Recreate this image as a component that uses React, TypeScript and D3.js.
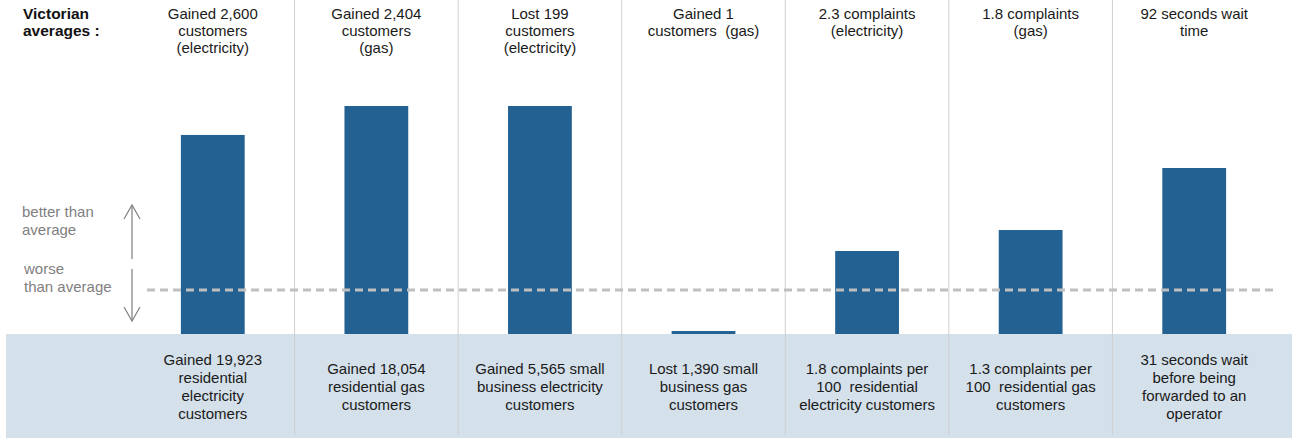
import React from 'react';
import * as d3 from 'd3';

const categories = ['elecRes', 'gasRes', 'elecBiz', 'gasBiz', 'complElec', 'complGas', 'wait'];

// index score per retailer measure (higher = better than average)
const scores = [87.3, 100, 100, 1.3, 36.4, 45.6, 72.8];
const averageScore = 19.3;

const averageLabels = [
  ['Gained 2,600', 'customers', '(electricity)'],
  ['Gained 2,404', 'customers', '(gas)'],
  ['Lost 199', 'customers', '(electricity)'],
  ['Gained 1', 'customers  (gas)'],
  ['2.3 complaints', '(electricity)'],
  ['1.8 complaints', '(gas)'],
  ['92 seconds wait', 'time'],
];

const retailerLabels = [
  ['Gained 19,923', 'residential', 'electricity', 'customers'],
  ['Gained 18,054', 'residential gas', 'customers'],
  ['Gained 5,565 small', 'business electricity', 'customers'],
  ['Lost 1,390 small', 'business gas', 'customers'],
  ['1.8 complaints per', '100  residential', 'electricity customers'],
  ['1.3 complaints per', '100  residential gas', 'customers'],
  ['31 seconds wait', 'before being', 'forwarded to an', 'operator'],
];

const width = 1292;
const height = 438;
const baseY = 334;
const font = '"Liberation Sans", Arial, sans-serif';

export default function App() {
  const x = d3.scaleBand<string>()
    .domain(categories)
    .range([131, 1276])
    .paddingInner(0.61)
    .paddingOuter(0.305);

  const y = d3.scaleLinear().domain([0, 100]).range([baseY, 106]);

  const step = x.step();
  const separators = categories.slice(1).map(c => (x(c) as number) + x.bandwidth() / 2 - step / 2);

  const avgY = y(averageScore);

  return (
    <div style={{ position: 'absolute', left: 0, top: 0 }}>
      <svg width={width} height={height} style={{ display: 'block', fontFamily: font }}>
        <rect x={0} y={0} width={width} height={height} fill="#fff" />
        <rect x={6} y={baseY} width={width - 6} height={height - baseY} fill="#d4e0ea" />

        {separators.map((sx, i) => (
          <line key={i} x1={sx} x2={sx} y1={0} y2={435} stroke="#d0d0d0" strokeWidth={1} />
        ))}

        {categories.map((c, i) => (
          <rect
            key={c}
            x={x(c)}
            y={y(scores[i])}
            width={x.bandwidth()}
            height={baseY - y(scores[i])}
            fill="#236192"
          />
        ))}

        <line x1={147} x2={1276} y1={avgY} y2={avgY} stroke="#bfbfbf" strokeWidth={3} strokeDasharray="8 5" />

        {/* arrows */}
        <g stroke="#7f7f7f" strokeWidth={1.2} fill="none">
          <line x1={132} x2={132} y1={205} y2={259} />
          <polyline points="124,219 132,205 140,219" />
          <line x1={132} x2={132} y1={269} y2={321} />
          <polyline points="124,307 132,321 140,307" />
        </g>

        <g fill="#808080" fontSize={15}>
          <text x={22} y={217}>better than</text>
          <text x={22} y={235}>average</text>
          <text x={24} y={274}>worse</text>
          <text x={24} y={292}>than average</text>
        </g>

        <g fill="#111" fontSize={15.5} fontWeight="bold">
          <text x={23} y={19}>Victorian</text>
          <text x={23} y={36}>averages :</text>
        </g>

        {categories.map((c, i) => {
          const cx = (x(c) as number) + x.bandwidth() / 2;
          return (
            <g key={'t' + c} fill="#1a1a1a" fontSize={15} textAnchor="middle">
              {averageLabels[i].map((t, j) => (
                <text key={j} x={cx} y={18.5 + j * 17} xmlSpace="preserve">{t}</text>
              ))}
            </g>
          );
        })}

        {categories.map((c, i) => {
          const cx = (x(c) as number) + x.bandwidth() / 2;
          const lines = retailerLabels[i];
          const y0 = 387 - ((lines.length - 1) * 18) / 2;
          return (
            <g key={'b' + c} fill="#1a1a1a" fontSize={15} textAnchor="middle">
              {lines.map((t, j) => (
                <text key={j} x={cx} y={y0 + j * 18 + 5.3} xmlSpace="preserve">{t}</text>
              ))}
            </g>
          );
        })}
      </svg>
    </div>
  );
}
